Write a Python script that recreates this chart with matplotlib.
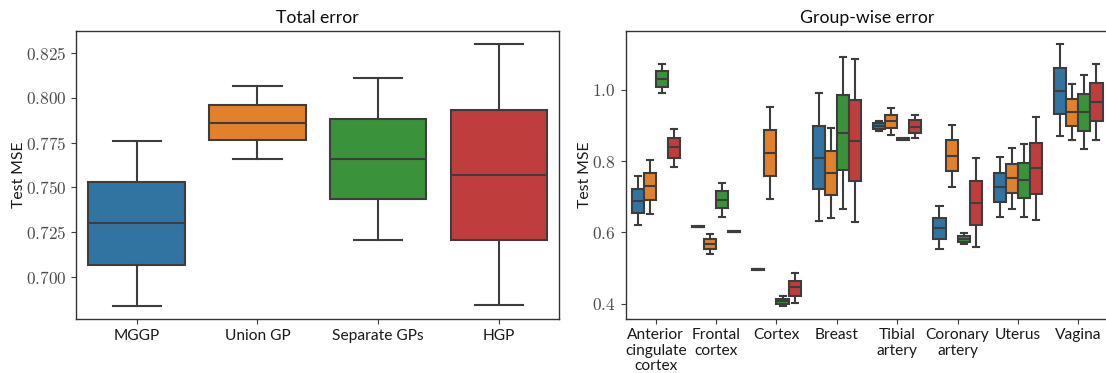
import matplotlib
matplotlib.use("Agg")
import matplotlib.pyplot as plt
import numpy as np
from matplotlib.ticker import FuncFormatter

plt.rcParams["mathtext.fontset"] = "cm"
plt.rcParams["font.family"] = ["Lato", "DejaVu Sans"]

# Box colours (seaborn tab10, desaturated)
COLORS = ["#3274a1", "#e1812c", "#3a923a", "#c03d3e"]
LINE_COLOR = "#3d3d3d"

# ---- Total error (one box per method) ----
methods = ["MGGP", "Union GP", "Separate GPs", "HGP"]
total_whislo = [0.6836, 0.7658, 0.7208, 0.6842]
total_q1 = [0.7065, 0.7762, 0.7432, 0.7205]
total_med = [0.7298, 0.7862, 0.7658, 0.7568]
total_q3 = [0.7531, 0.7961, 0.7883, 0.7933]
total_whishi = [0.7760, 0.8067, 0.8108, 0.8300]

# ---- Group-wise error: rows = tissue, cols = method (MGGP, Union GP, Separate GPs, HGP) ----
tissues = ["Anterior\ncingulate\ncortex", "Frontal\ncortex", "Cortex", "Breast",
           "Tibial\nartery", "Coronary\nartery", "Uterus", "Vagina"]
group_whislo = [
    [0.621, 0.652, 0.990, 0.783],
    [0.614, 0.538, 0.643, 0.601],
    [0.494, 0.694, 0.393, 0.401],
    [0.632, 0.640, 0.665, 0.630],
    [0.885, 0.872, 0.859, 0.866],
    [0.553, 0.728, 0.566, 0.558],
    [0.644, 0.666, 0.644, 0.635],
    [0.869, 0.858, 0.834, 0.858],
]
group_q1 = [
    [0.654, 0.690, 1.009, 0.809],
    [0.614, 0.552, 0.667, 0.601],
    [0.494, 0.758, 0.400, 0.422],
    [0.722, 0.704, 0.774, 0.744],
    [0.891, 0.892, 0.860, 0.880],
    [0.582, 0.772, 0.574, 0.622],
    [0.684, 0.710, 0.696, 0.707],
    [0.931, 0.898, 0.885, 0.913],
]
group_med = [
    [0.688, 0.729, 1.031, 0.839],
    [0.616, 0.568, 0.691, 0.602],
    [0.496, 0.823, 0.408, 0.447],
    [0.809, 0.766, 0.879, 0.857],
    [0.898, 0.911, 0.862, 0.896],
    [0.612, 0.814, 0.582, 0.681],
    [0.727, 0.753, 0.748, 0.781],
    [0.997, 0.938, 0.938, 0.965],
]
group_q3 = [
    [0.723, 0.766, 1.052, 0.864],
    [0.618, 0.582, 0.715, 0.603],
    [0.497, 0.886, 0.414, 0.465],
    [0.899, 0.829, 0.984, 0.972],
    [0.906, 0.930, 0.864, 0.915],
    [0.641, 0.859, 0.591, 0.744],
    [0.766, 0.793, 0.795, 0.851],
    [1.062, 0.974, 0.988, 1.018],
]
group_whishi = [
    [0.758, 0.802, 1.073, 0.891],
    [0.618, 0.595, 0.739, 0.603],
    [0.497, 0.951, 0.4215, 0.487],
    [0.990, 0.893, 1.093, 1.087],
    [0.913, 0.948, 0.865, 0.930],
    [0.673, 0.902, 0.599, 0.808],
    [0.810, 0.836, 0.849, 0.923],
    [1.128, 1.016, 1.041, 1.072],
]


def _stats(lo, q1, med, q3, hi):
    return {"whislo": lo, "q1": q1, "med": med, "q3": q3, "whishi": hi, "fliers": []}


def _draw(ax, stats, positions, width, colors):
    line = {"color": LINE_COLOR, "linewidth": 1.5}
    bp = ax.bxp(stats, positions=positions, widths=width, patch_artist=True,
                showfliers=False, manage_ticks=False,
                boxprops={"edgecolor": LINE_COLOR, "linewidth": 1.5},
                medianprops=line, whiskerprops=line, capprops=line,
                capwidths=width * 0.5)
    for patch, c in zip(bp["boxes"], colors):
        patch.set_facecolor(c)


def _style(ax, fmt):
    ax.yaxis.set_major_formatter(FuncFormatter(lambda v, _: "$" + fmt.format(v) + "$"))
    ax.tick_params(axis="y", labelsize=12.5, colors="0.25", labelcolor="0.3", length=3.5)
    ax.tick_params(axis="x", labelsize=11.2, colors="0.25", labelcolor="0.1", length=3.5)
    for s in ax.spines.values():
        s.set_color("0.2")
        s.set_linewidth(1.0)
    ax.set_ylabel("Test MSE", fontsize=11.3, color="0.1", labelpad=0)


fig = plt.figure(figsize=(11.06, 3.73), dpi=100)
ax1 = fig.add_axes([0.0690, 0.1440, 0.4367, 0.7729])
ax2 = fig.add_axes([0.5656, 0.1440, 0.4367, 0.7729])

# Left panel
x1 = np.arange(len(methods))
stats1 = [_stats(*v) for v in zip(total_whislo, total_q1, total_med, total_q3, total_whishi)]
_draw(ax1, stats1, x1, 0.8, COLORS)
ax1.set_xlim(-0.5, len(methods) - 0.5)
ax1.margins(y=0.05)
ax1.set_xticks(x1)
ax1.set_xticklabels(methods)
ax1.set_yticks([0.700, 0.725, 0.750, 0.775, 0.800, 0.825])
_style(ax1, "{:.3f}")
ax1.set_title("Total error", fontsize=12.7, color="0.05", pad=6)

# Right panel
x2 = np.arange(len(tissues))
w = 0.8 / len(methods)
for j in range(len(methods)):
    stats = [_stats(group_whislo[i][j], group_q1[i][j], group_med[i][j],
                    group_q3[i][j], group_whishi[i][j]) for i in range(len(tissues))]
    _draw(ax2, stats, x2 + (j - 1.5) * w, w, [COLORS[j]] * len(tissues))
ax2.set_xlim(-0.5, len(tissues) - 0.5)
ax2.margins(y=0.05)
ax2.set_xticks(x2)
ax2.set_xticklabels(tissues, linespacing=1.12)
ax2.tick_params(axis="x", pad=3)
ax2.set_yticks([0.4, 0.6, 0.8, 1.0])
_style(ax2, "{:.1f}")
ax2.set_title("Group-wise error", fontsize=12.7, color="0.05", pad=6)

fig.savefig("out.png", dpi=100)
